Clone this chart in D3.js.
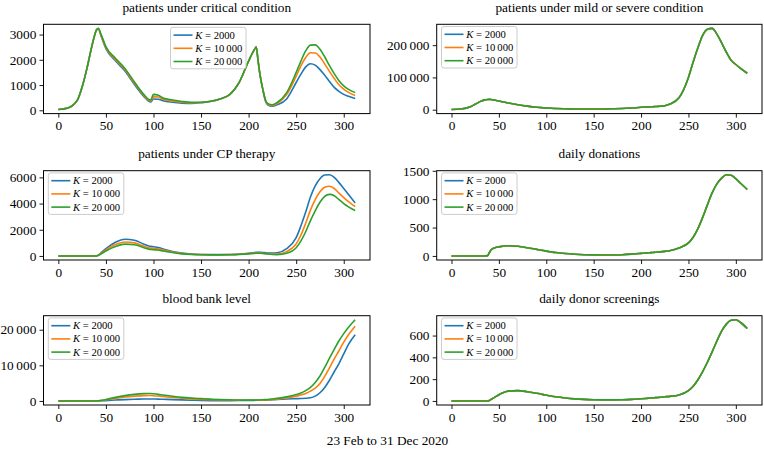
<!DOCTYPE html>
<html><head><meta charset="utf-8">
<script src="https://cdn.jsdelivr.net/npm/d3@7"></script>
<style>
html,body{margin:0;padding:0;background:#fff;}
svg{display:block;font-family:"Liberation Serif","Times New Roman",serif;}
</style></head>
<body><svg id="chart" width="764" height="449"></svg>
<script>
// ---------- data ----------
const days = [0,10,20,25,30,35,38,40,42,45,50,60,70,80,90,95,97,100,105,110,120,130,140,150,160,170,180,190,200,205,208,210,212,215,218,220,225,230,240,250,255,260,265,270,275,280,285,290,295,300,305,312];
const seriesNames = ["K = 2000","K = 10 000","K = 20 000"];
const seriesColors = ["#1f77b4","#ff7f0e","#2ca02c"];
const xTicks = [0,50,100,150,200,250,300];

const criticalK2000 = [30,90,400,920,1650,2500,2950,3180,3220,2930,2440,1960,1560,1020,540,360,330,450,440,380,320,285,275,300,345,445,615,1100,1950,2330,2500,1950,1400,810,340,220,160,220,450,1100,1430,1720,1845,1790,1610,1390,1140,910,750,630,555,470];
const criticalK10000 = [30,90,400,920,1650,2500,2950,3180,3235,2970,2480,2010,1610,1070,580,395,370,540,525,440,370,320,295,310,355,450,620,1100,1950,2330,2500,1950,1400,820,370,250,190,270,620,1350,1760,2090,2280,2270,2110,1840,1540,1260,1010,840,710,590];
const criticalK20000 = [30,90,400,920,1650,2500,2950,3180,3245,3000,2520,2060,1660,1120,620,430,410,630,600,490,410,350,315,320,360,450,620,1100,1950,2330,2500,1950,1400,820,380,270,220,310,700,1500,1950,2350,2580,2590,2420,2120,1770,1450,1170,970,830,700];
const criticalTicks = [0,1000,2000,3000];

const mildSevere = [500,2000,9000,17000,25000,30500,31800,32000,31500,30000,27000,21000,15500,11000,7500,6300,5800,5200,4400,3700,2900,2400,2200,2200,2400,2800,3500,5200,7500,8300,8700,9000,9300,9800,10300,10800,12500,17000,37000,100000,148000,192000,230000,249000,252000,234000,207000,178000,153000,140000,128000,113000];
const mildTicks = [0,100000,200000];

const cpK2000 = [0,0,0,0,0,0,0,0,60,250,560,1050,1280,1200,900,760,730,700,650,530,340,220,150,110,100,100,110,140,200,240,270,280,275,260,240,230,220,240,560,1400,2300,3350,4500,5350,5900,6180,6200,6000,5600,5150,4700,4050];
const cpK10000 = [0,0,0,0,0,0,0,0,50,200,460,870,1070,1000,740,620,590,570,540,450,300,190,130,100,90,90,100,125,180,210,225,230,225,210,190,170,145,150,330,920,1600,2500,3500,4300,4900,5250,5320,5150,4800,4450,4150,3770];
const cpK20000 = [0,0,0,0,0,0,0,0,40,160,380,720,900,850,630,520,490,470,450,380,260,160,110,90,85,85,95,115,160,190,205,210,205,190,165,145,110,100,200,620,1150,1850,2700,3450,4100,4550,4700,4600,4300,4000,3750,3470];
const cpTicks = [0,2000,4000,6000];

const donations = [0,0,0,0,0,0,5,60,110,140,160,180,170,145,115,100,95,85,72,60,42,30,22,18,16,17,22,32,45,52,55,58,60,64,68,72,80,92,140,230,330,480,680,900,1110,1270,1370,1430,1420,1360,1280,1170];
const donationTicks = [0,500,1000,1500];

const bankK2000 = [0,0,0,0,0,0,0,0,12,40,100,250,380,470,540,560,560,550,520,470,380,290,200,120,80,70,80,110,150,165,175,180,190,205,225,250,330,420,560,640,680,740,880,1350,2300,3800,5800,8200,10500,13200,15900,18600];
const bankK10000 = [0,0,0,0,0,0,0,0,35,110,290,720,1100,1350,1500,1520,1510,1470,1370,1230,960,750,580,450,350,280,230,200,190,195,200,210,220,240,270,300,400,520,850,1350,1650,2100,2750,3600,4900,6900,9300,11800,14100,16500,18600,21000];
const bankK20000 = [0,0,0,0,0,0,0,0,50,150,400,1000,1500,1850,2050,2080,2070,2000,1850,1650,1300,1000,800,650,500,380,300,250,220,230,240,260,280,320,380,420,560,720,1150,1800,2250,2900,3800,5200,7000,9400,12000,14500,16900,18900,20700,22800];
const bankTicks = [0,10000,20000];

const screenings = [0,0,0,0,0,0,0,5,15,30,57,90,95,85,70,62,58,53,45,38,27,19,14,11,10,10,11,14,20,23,25,27,28,30,32,34,38,42,55,95,135,195,270,355,450,550,640,705,740,745,720,665];
const screeningTicks = [0,200,400,600];

const panels = [
  {title:"patients under critical condition", series:[criticalK2000,criticalK10000,criticalK20000], ticks:criticalTicks, col:0,row:0, legend:"center"},
  {title:"patients under mild or severe condition", series:[mildSevere,mildSevere,mildSevere], ticks:mildTicks, col:1,row:0, legend:"left"},
  {title:"patients under CP therapy", series:[cpK2000,cpK10000,cpK20000], ticks:cpTicks, col:0,row:1, legend:"left"},
  {title:"daily donations", series:[donations,donations,donations], ticks:donationTicks, col:1,row:1, legend:"left"},
  {title:"blood bank level", series:[bankK2000,bankK10000,bankK20000], ticks:bankTicks, col:0,row:2, legend:"left"},
  {title:"daily donor screenings", series:[screenings,screenings,screenings], ticks:screeningTicks, col:1,row:2, legend:"left"}
];
const xLabel = "23 Feb to 31 Dec 2020";

// ---------- layout ----------
const colLeft = [43.5, 436.7], colRight = [370, 762];
const rowTop = [24.3, 170.7, 315.7], axH = 89.3;
const fontSize = 13.3, legendFont = 10.6;

const fmt = v => Math.abs(v) >= 10000 ? d3.format(",")(v).replace(/,/g, "\u2009") : String(v);

const svg = d3.select("#chart");
svg.append("rect").attr("width",764).attr("height",449).attr("fill","#fff");

const xMin = d3.min(days), xMax = d3.max(days), xPad = 0.05*(xMax-xMin);

panels.forEach(p => {
  const L = colLeft[p.col], R = colRight[p.col], T = rowTop[p.row], B = T + axH;
  const all = p.series.flat();
  const yMin = d3.min(all), yMax = d3.max(all), yPad = 0.05*(yMax-yMin);
  const x = d3.scaleLinear().domain([xMin-xPad, xMax+xPad]).range([L, R]);
  const y = d3.scaleLinear().domain([yMin-yPad, yMax+yPad]).range([B, T]);
  const g = svg.append("g");

  const clipId = "clip"+p.col+p.row;
  g.append("clipPath").attr("id",clipId).append("rect").attr("x",L).attr("y",T).attr("width",R-L).attr("height",B-T);

  const line = d3.line().x((d,i)=>x(days[i])).y(d=>y(d)).curve(d3.curveMonotoneX);
  const lg = g.append("g").attr("clip-path",`url(#${clipId})`);
  p.series.forEach((s,i) => {
    lg.append("path").attr("d", line(s)).attr("fill","none")
      .attr("stroke", seriesColors[i]).attr("stroke-width",1.6).attr("stroke-linejoin","round");
  });

  const xa = d3.axisBottom(x).tickValues(xTicks).tickSize(4).tickPadding(3.2).tickSizeOuter(0).tickFormat(d=>String(d));
  const ya = d3.axisLeft(y).tickValues(p.ticks).tickSize(4).tickPadding(3.2).tickSizeOuter(0).tickFormat(fmt);
  const gx = g.append("g").attr("transform",`translate(0,${B})`).call(xa);
  const gy = g.append("g").attr("transform",`translate(${L},0)`).call(ya);
  [gx,gy].forEach(a => {
    a.select(".domain").remove();
    a.selectAll("line").attr("stroke","#000").attr("stroke-width",0.9);
    a.selectAll("text").attr("font-size",fontSize).attr("fill","#000")
      .attr("font-family",'"Liberation Serif","Times New Roman",serif');
  });

  g.append("rect").attr("x",L).attr("y",T).attr("width",R-L).attr("height",B-T)
    .attr("fill","none").attr("stroke","#000").attr("stroke-width",1);

  g.append("text").attr("x",(L+R)/2).attr("y",T-12.3).attr("text-anchor","middle")
    .attr("font-size",fontSize).attr("fill","#000").text(p.title);

  const lw = 75.5, lh = 41.5;
  const lx = p.legend === "center" ? (L+R)/2 - lw/2 + 1.5 : L + 4.8;
  const ly = p.legend === "center" ? T + 3 : T + 2.2;
  const leg = g.append("g").attr("transform",`translate(${lx},${ly})`);
  leg.append("rect").attr("width",lw).attr("height",lh).attr("rx",2.5)
    .attr("fill","#fff").attr("fill-opacity",0.8).attr("stroke","#cccccc").attr("stroke-width",1);
  seriesNames.forEach((n,i) => {
    const cy = 7.8 + i*13.2;
    leg.append("line").attr("x1",3).attr("x2",22).attr("y1",cy).attr("y2",cy)
      .attr("stroke",seriesColors[i]).attr("stroke-width",1.6);
    const t = leg.append("text").attr("x",24.8).attr("y",cy+3.6).attr("font-size",legendFont).attr("fill","#000");
    const parts = n.split(" = ");
    t.append("tspan").attr("font-style","italic").text(parts[0]);
    t.append("tspan").text(" = " + parts[1].replace(" ", "\u2009"));
  });
});

svg.append("text").attr("x",387.5).attr("y",445.3).attr("text-anchor","middle")
  .attr("font-size",fontSize).attr("fill","#000").text(xLabel);
</script></body></html>
